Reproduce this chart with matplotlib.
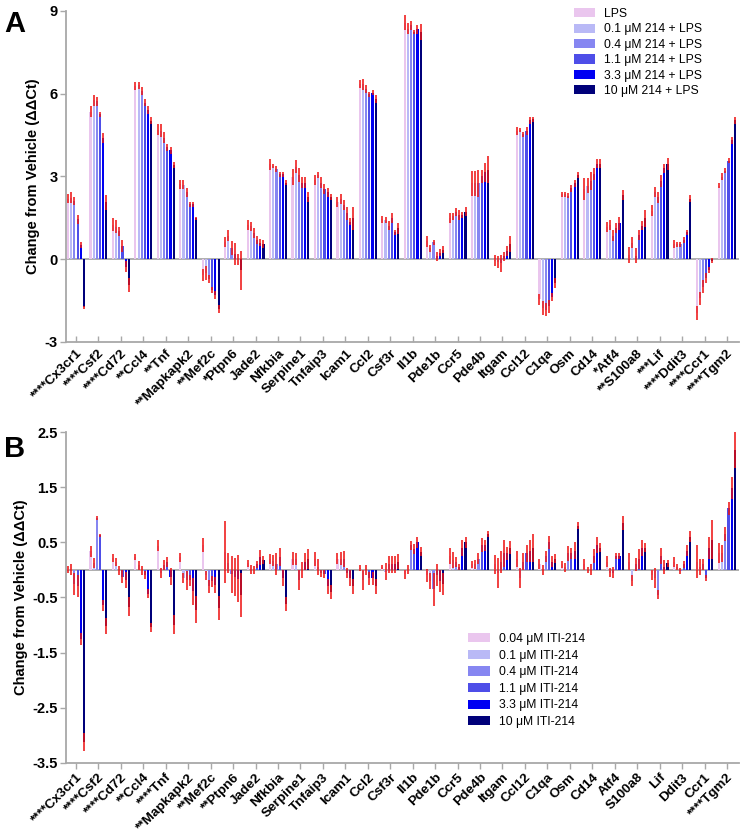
# qPCR dose response, two panels (A: 214 + LPS, B: ITI-214 alone)

import numpy as np
import matplotlib
matplotlib.use('Agg')
import matplotlib.pyplot as plt
from matplotlib.patches import Patch

plt.rcParams['font.family'] = ['Liberation Sans', 'DejaVu Sans']

# =========================
# DATA
# =========================
genes_a = ['****Cx3cr1', '****Csf2', '****Cd72', '**Ccl4', '**Tnf', '**Mapkapk2',
           '**Mef2c', '*Ptpn6', 'Jade2', 'Nfkbia', 'Serpine1', 'Tnfaip3', 'Icam1',
           'Ccl2', 'Csf3r', 'Il1b', 'Pde1b', 'Ccr5', 'Pde4b', 'Itgam', 'Ccl12',
           'C1qa', 'Osm', 'Cd14', '*Atf4', '**S100a8', '***Lif', '****Ddit3',
           '****Ccr1', '****Tgm2']
genes_b = ['****Cx3cr1', '****Csf2', '****Cd72', '**Ccl4', '****Tnf', '**Mapkapk2',
           '**Mef2c', '**Ptpn6', 'Jade2', 'Nfkbia', 'Serpine1', 'Tnfaip3', 'Icam1',
           'Ccl2', 'Csf3r', 'Il1b', 'Pde1b', 'Ccr5', 'Pde4b', 'Itgam', 'Ccl12',
           'C1qa', 'Osm', 'Cd14', 'Atf4', 'S100a8', 'Lif', 'Ddit3', 'Ccr1',
           '****Tgm2']

labels_a = ['LPS', '0.1 μM 214 + LPS', '0.4 μM 214 + LPS', '1.1 μM 214 + LPS',
            '3.3 μM 214 + LPS', '10 μM 214 + LPS']
labels_b = ['0.04 μM ITI-214', '0.1 μM ITI-214', '0.4 μM ITI-214', '1.1 μM ITI-214',
            '3.3 μM ITI-214', '10 μM ITI-214']

# panel A means
a_lps = [2.2, 5.35, 1.25, 6.28, 4.7, 2.72, -0.58, 0.63, 1.25, 3.44, 2.98, 2.87, 2.08, 6.34, 1.45,
         8.58, 0.65, 1.48, 2.75, -0.05, 4.65, -1.45, 2.36, 2.54, 1.18, 0.16, 1.76, 0.55, -1.95, 2.66]
a_01 = [2.23, 5.76, 1.18, 6.3, 4.66, 2.7, -0.5, 0.85, 1.2, 3.38, 3.36, 3.05, 2.18, 6.34, 1.42,
        8.36, 0.4, 1.55, 2.75, -0.1, 4.67, -1.77, 2.36, 2.66, 1.24, 0.6, 2.45, 0.55, -1.41, 2.99]
a_04 = [2.1, 5.72, 1.01, 6.1, 4.41, 2.42, -0.71, 0.4, 0.94, 3.28, 3.05, 2.77, 1.96, 6.16, 1.22,
        8.48, 0.61, 1.7, 2.75, -0.15, 4.53, -1.83, 2.3, 2.84, 0.86, 0.13, 2.24, 0.55, -0.99, 3.2]
a_11 = [1.45, 5.25, 0.48, 5.67, 4.06, 1.99, -1.11, 0.2, 0.7, 3.08, 2.78, 2.55, 1.66, 5.98, 1.48,
        8.23, 0.1, 1.6, 3.0, 0.1, 4.65, -1.71, 2.57, 3.08, 1.12, 0.88, 2.84, 0.7, -0.69, 3.57]
a_33 = [0.52, 4.41, -0.27, 5.41, 3.95, 1.99, -1.31, 0.0, 0.6, 3.08, 2.77, 2.42, 1.36, 6.04, 0.98,
        8.33, 0.23, 1.6, 3.15, 0.3, 5.04, -1.37, 2.75, 3.46, 1.3, 1.22, 3.29, 0.98, -0.39, 4.31]
a_10 = [-1.75, 2.06, -0.93, 5.02, 3.41, 1.48, -1.8, -0.4, 0.55, 2.78, 2.26, 2.25, 1.48, 5.8, 1.12,
        8.24, 0.35, 1.73, 3.25, 0.55, 5.07, -0.87, 3.05, 3.47, 2.33, 1.48, 3.45, 2.2, -0.05, 5.04]

# panel A errors
a_lps_e = [0.15, 0.2, 0.23, 0.13, 0.2, 0.17, 0.22, 0.17, 0.19, 0.2, 0.28, 0.18, 0.18, 0.15, 0.12,
           0.26, 0.19, 0.18, 0.45, 0.2, 0.15, 0.2, 0.09, 0.39, 0.18, 0.3, 0.21, 0.15, 0.24, 0.09]
a_01_e = [0.2, 0.19, 0.24, 0.13, 0.23, 0.17, 0.24, 0.2, 0.16, 0.09, 0.23, 0.12, 0.18, 0.2, 0.12,
          0.19, 0.12, 0.13, 0.45, 0.2, 0.07, 0.24, 0.09, 0.27, 0.18, 0.2, 0.18, 0.09, 0.24, 0.12]
a_04_e = [0.15, 0.16, 0.17, 0.15, 0.21, 0.17, 0.15, 0.25, 0.18, 0.11, 0.24, 0.2, 0.18, 0.15, 0.15,
          0.17, 0.09, 0.15, 0.5, 0.3, 0.09, 0.24, 0.09, 0.33, 0.21, 0.27, 0.21, 0.09, 0.24, 0.09]
a_11_e = [0.16, 0.1, 0.2, 0.13, 0.13, 0.1, 0.12, 0.4, 0.15, 0.09, 0.21, 0.17, 0.24, 0.09, 0.18,
          0.08, 0.18, 0.18, 0.25, 0.15, 0.15, 0.24, 0.12, 0.21, 0.18, 0.18, 0.21, 0.12, 0.18, 0.09]
a_33_e = [0.11, 0.18, 0.2, 0.13, 0.12, 0.1, 0.15, 0.2, 0.12, 0.1, 0.2, 0.18, 0.12, 0.09, 0.09,
          0.15, 0.13, 0.12, 0.35, 0.18, 0.12, 0.15, 0.12, 0.16, 0.24, 0.15, 0.18, 0.09, 0.12, 0.12]
a_10_e = [0.06, 0.27, 0.24, 0.13, 0.12, 0.04, 0.15, 0.7, 0.15, 0.09, 0.18, 0.1, 0.42, 0.15, 0.2,
          0.29, 0.13, 0.17, 0.5, 0.3, 0.09, 0.18, 0.12, 0.18, 0.18, 0.3, 0.21, 0.12, 0.09, 0.12]

# panel B means
b_004 = [0.01, 0.34, 0.22, 0.23, 0.44, 0.23, 0.45, 0.32, 0.12, 0.2, 0.2, 0.2, 0.2, 0.03, 0.05,
         -0.08, -0.1, 0.25, 0.1, 0.1, 0.2, 0.1, 0.1, 0.1, 0.15, 0.15, -0.1, 0.15, 0.15, 0.3]
b_01 = [0.0, 0.12, 0.14, 0.08, -0.06, -0.15, -0.1, 0.12, 0.0, 0.17, 0.2, 0.05, 0.2, -0.18, -0.03,
        0.0, -0.2, 0.18, 0.1, -0.05, -0.15, 0.0, 0.05, 0.0, -0.05, -0.2, -0.15, 0.05, 0.05, 0.3]
b_04 = [-0.25, 0.94, -0.01, -0.01, 0.09, -0.19, -0.3, -0.08, 0.0, 0.11, -0.18, -0.06, 0.2, 0.0, 0.1,
        0.45, -0.35, 0.15, 0.2, 0.15, 0.15, 0.25, 0.3, 0.0, -0.05, 0.1, -0.45, -0.02, 0.1, 0.65]
b_11 = [-0.3, 0.63, -0.12, -0.09, 0.15, -0.19, -0.21, -0.13, 0.1, 0.23, 0.0, -0.08, -0.05, -0.15, 0.1,
        0.38, -0.1, 0.05, 0.45, 0.3, 0.3, 0.5, 0.3, 0.25, 0.25, 0.2, 0.25, 0.1, -0.15, 1.12]
b_33 = [-1.26, -0.64, -0.18, -0.43, -0.12, -0.39, -0.27, -0.16, 0.23, -0.15, 0.15, -0.3, -0.15, -0.15, 0.1,
        0.5, -0.2, 0.4, 0.45, 0.3, 0.35, 0.15, 0.35, 0.45, 0.25, 0.4, 0.05, 0.35, 0.4, 1.48]
b_10 = [-3.12, -1.02, -0.67, -1.04, -0.99, -0.72, -0.69, -0.46, 0.18, -0.62, 0.2, -0.4, -0.3, -0.3, 0.15,
        0.33, -0.25, 0.5, 0.65, 0.4, 0.4, 0.2, 0.8, 0.4, 0.85, 0.4, 0.12, 0.6, 0.55, 2.17]

# panel B errors
b_004_e = [0.06, 0.1, 0.07, 0.05, 0.1, 0.08, 0.12, 0.56, 0.06, 0.09, 0.12, 0.13, 0.1, 0.05, 0.04,
           0.08, 0.12, 0.15, 0.06, 0.17, 0.14, 0.09, 0.06, 0.1, 0.1, 0.15, 0.09, 0.09, 0.3, 0.18]
b_01_e = [0.1, 0.09, 0.07, 0.08, 0.09, 0.09, 0.08, 0.18, 0.08, 0.1, 0.11, 0.15, 0.12, 0.18, 0.15,
          0.08, 0.14, 0.15, 0.08, 0.27, 0.18, 0.09, 0.08, 0.06, 0.08, 0.1, 0.18, 0.06, 0.15, 0.15]
b_04_e = [0.2, 0.04, 0.08, 0.08, 0.09, 0.17, 0.12, 0.34, 0.07, 0.2, 0.18, 0.06, 0.15, 0.09, 0.15,
          0.08, 0.3, 0.09, 0.1, 0.2, 0.16, 0.1, 0.13, 0.1, 0.1, 0.12, 0.08, 0.05, 0.1, 0.13]
b_11_e = [0.2, 0.03, 0.12, 0.07, 0.09, 0.1, 0.1, 0.35, 0.06, 0.16, 0.15, 0.07, 0.09, 0.12, 0.15,
          0.09, 0.2, 0.05, 0.12, 0.24, 0.16, 0.12, 0.1, 0.13, 0.05, 0.18, 0.15, 0.06, 0.05, 0.12]
b_33_e = [0.11, 0.1, 0.15, 0.08, 0.15, 0.24, 0.15, 0.43, 0.14, 0.15, 0.15, 0.13, 0.15, 0.12, 0.15,
          0.1, 0.2, 0.15, 0.1, 0.12, 0.2, 0.1, 0.15, 0.15, 0.06, 0.15, 0.13, 0.1, 0.2, 0.2]
b_10_e = [0.17, 0.15, 0.17, 0.08, 0.18, 0.24, 0.21, 0.4, 0.08, 0.13, 0.18, 0.13, 0.14, 0.13, 0.13,
          0.08, 0.2, 0.1, 0.05, 0.12, 0.25, 0.08, 0.06, 0.08, 0.12, 0.08, 0.06, 0.1, 0.35, 0.33]

# =========================
# THEME SETTINGS
# =========================
BAR_COLORS = ['#EAC6EE', '#B9B9F6', '#8686F1', '#4E4EE8', '#0000F2', '#00007A']
ERR_COLOR = '#EE1111'
AXIS_COLOR = '#A8A8A8'
BAR_STEP = 0.141
BAR_W = 0.095


def draw_panel(ax, means, errs, names, ylim, yticks, yticklabels, tickdir):
    x = np.arange(len(names))
    for k, (m, e) in enumerate(zip(means, errs)):
        xs = x + (k - 2.5) * BAR_STEP
        ax.bar(xs, m, width=BAR_W, color=BAR_COLORS[k], linewidth=0, zorder=2)
        ax.errorbar(xs, m, yerr=e, fmt='none', ecolor=ERR_COLOR, elinewidth=1.4,
                    capsize=0, alpha=0.8, zorder=3)

    ax.axhline(0, color=AXIS_COLOR, lw=1.3, zorder=1)
    ax.set_xlim(-0.445, len(names) - 1 + 0.535)
    ax.set_ylim(*ylim)
    ax.set_yticks(yticks)
    ax.set_yticklabels(yticklabels, fontsize=10.5, fontweight='bold')
    ax.set_xticks(x)
    ax.set_xticklabels(names, rotation=45, ha='right', va='top', rotation_mode='anchor',
                       fontsize=9.7, fontweight='bold')

    ax.spines['top'].set_visible(False)
    ax.spines['right'].set_visible(False)
    for side in ['left', 'bottom']:
        ax.spines[side].set_color(AXIS_COLOR)
        ax.spines[side].set_linewidth(1.3)
    ax.tick_params(axis='y', colors=AXIS_COLOR, labelcolor='black', length=4, width=1, pad=2)
    ax.tick_params(axis='x', colors=AXIS_COLOR, labelcolor='black', length=4, width=1,
                   direction=tickdir, pad=4 if tickdir == 'in' else 2)
    ax.set_ylabel('Change from Vehicle (ΔΔCt)', fontsize=10.5, fontweight='bold', labelpad=3)


fig = plt.figure(figsize=(7.5, 8.39), dpi=100)
ax_a = fig.add_axes([0.088, 0.5924, 0.8973, 0.3945])
ax_b = fig.add_axes([0.088, 0.0906, 0.8973, 0.3945])

draw_panel(ax_a, [a_lps, a_01, a_04, a_11, a_33, a_10],
           [a_lps_e, a_01_e, a_04_e, a_11_e, a_33_e, a_10_e],
           genes_a, (-3, 9), [-3, 0, 3, 6, 9], ['-3', '0', '3', '6', '9'], 'in')
draw_panel(ax_b, [b_004, b_01, b_04, b_11, b_33, b_10],
           [b_004_e, b_01_e, b_04_e, b_11_e, b_33_e, b_10_e],
           genes_b, (-3.5, 2.5), [-3.5, -2.5, -1.5, -0.5, 0.5, 1.5, 2.5],
           ['-3.5', '-2.5', '-1.5', '-0.5', '0.5', '1.5', '2.5'], 'out')

# Legends
handles = [Patch(facecolor=c, edgecolor='none') for c in BAR_COLORS]
ax_a.legend(handles, labels_a, loc='upper left', bbox_to_anchor=(574 / 750, 1 - 8 / 839),
            bbox_transform=fig.transFigure, frameon=False, fontsize=8.7, borderpad=0,
            borderaxespad=0, handlelength=1.7, handleheight=0.8, handletextpad=0.75,
            labelspacing=0.28)
ax_b.legend(handles, labels_b, loc='upper left', bbox_to_anchor=(468 / 750, 1 - 633 / 839),
            bbox_transform=fig.transFigure, frameon=False, fontsize=8.7, borderpad=0,
            borderaxespad=0, handlelength=1.8, handleheight=0.8, handletextpad=0.8,
            labelspacing=0.38)

# Panel letters
fig.text(0.006, 0.988, 'A', fontsize=21, fontweight='bold', va='top', ha='left')
fig.text(0.006, 0.482, 'B', fontsize=21, fontweight='bold', va='top', ha='left')

plt.savefig('out.png', dpi=100)
